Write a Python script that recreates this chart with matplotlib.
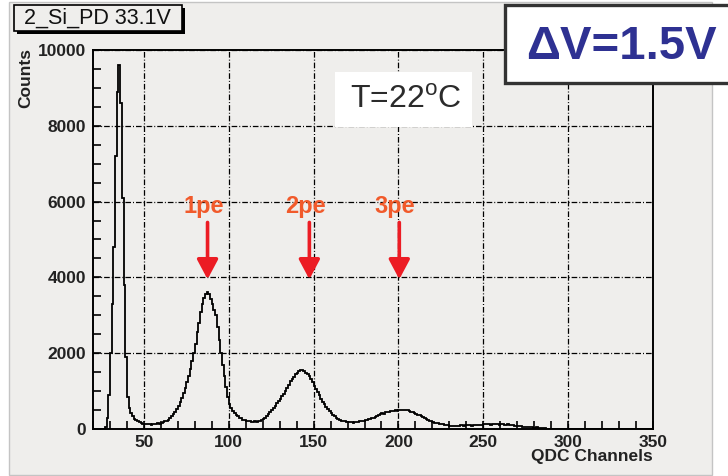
import numpy as np
import matplotlib
matplotlib.use("Agg")
from matplotlib import pyplot as plt
from matplotlib.patches import Rectangle
from matplotlib.ticker import MultipleLocator

plt.rcParams['font.family'] = ['Liberation Sans', 'DejaVu Sans']
plt.rcParams['mathtext.fontset'] = 'custom'
plt.rcParams['mathtext.rm'] = 'Liberation Sans'

# QDC spectrum, one count value per channel starting at channel 20
first_channel = 20
counts = [
    0, 0, 0, 0, 0, 0, 0, 40, 300, 900,                      # 20-29
    2000, 3300, 4800, 7200, 8900, 9600, 8600, 6100, 3800, 1900,  # 30-39
    850, 560, 420, 330, 270, 230, 200, 175, 160, 145,       # 40-49
    130, 125, 120, 125, 115, 120, 125, 140, 150, 145,       # 50-59
    165, 180, 200, 215, 245, 290, 340, 390, 450, 530,       # 60-69
    620, 720, 830, 940, 1080, 1230, 1400, 1580, 1800, 2000,  # 70-79
    2250, 2550, 2800, 3100, 3300, 3450, 3550, 3620, 3550, 3420,  # 80-89
    3300, 3150, 3000, 2700, 2350, 2000, 1700, 1400, 1100, 850,   # 90-99
    650, 560, 480, 420, 370, 340, 300, 280, 250, 230,       # 100-109
    215, 210, 200, 195, 190, 200, 195, 205, 210, 240,       # 110-119
    270, 300, 340, 400, 450, 500, 560, 620, 680, 740,       # 120-129
    800, 870, 920, 1000, 1080, 1160, 1260, 1320, 1380, 1440,  # 130-139
    1490, 1530, 1560, 1550, 1520, 1490, 1450, 1390, 1310, 1230,  # 140-149
    1140, 1060, 970, 890, 800, 720, 650, 580, 520, 470,     # 150-159
    420, 380, 340, 300, 270, 240, 220, 210, 200, 190,       # 160-169
    180, 175, 180, 170, 175, 180, 190, 200, 210, 220,       # 170-179
    230, 250, 270, 260, 280, 300, 320, 330, 360, 400,       # 180-189
    420, 400, 440, 460, 450, 470, 480, 480, 490, 480,       # 190-199
    490, 500, 510, 500, 490, 505, 470, 450, 440, 420,       # 200-209
    400, 380, 360, 340, 310, 290, 260, 240, 220, 210,       # 210-219
    190, 170, 165, 150, 130, 125, 120, 110, 100, 95,        # 220-229
    90, 85, 80, 85, 90, 80, 95, 100, 90, 100,               # 230-239
    100, 95, 100, 90, 95, 100, 100, 95, 105, 110,           # 240-249
    125, 120, 130, 120, 115, 125, 120, 130, 125, 110,       # 250-259
    130, 120, 110, 115, 120, 110, 100, 95, 90, 85,          # 260-269
    80, 75, 70, 65, 60, 55, 50, 45, 40, 35,                 # 270-279
    30, 40, 25, 20, 20, 15, 15, 10, 10, 8,                  # 280-289
    8, 6, 5, 5, 4, 4, 3, 3, 3, 2,                           # 290-299
    2, 2, 3, 2, 2, 1, 2, 1, 1, 2,                           # 300-309
    1, 1, 1, 2, 1, 1, 0, 1, 1, 0,                           # 310-319
    1, 0, 0, 1, 0, 0, 1, 0, 0, 0,                           # 320-329
    0, 0, 0, 0, 0, 0, 0, 0, 0, 0,                           # 330-339
    0, 0, 0, 0, 0, 0, 0, 0, 0, 0,                           # 340-349
]

# photo-electron peak markers: label, channel, arrow top, arrow tip
pe_labels = ["1pe", "2pe", "3pe"]
pe_channels = [87.5, 147.5, 200.5]
arrow_top = 5450
arrow_tip = 3950

hist_title = "2_Si_PD 33.1V"
temp_text = r"T=22$^\mathrm{o}$C"
dv_text = "\u0394V=1.5V"

W, H = 728, 476
pad_grey = "#efeeec"

fig = plt.figure(figsize=(W / 100, H / 100), dpi=100)
fig.patch.set_facecolor("white")


def px(x, y):
    # pixel coordinates (from top-left) to figure fraction
    return x / W, 1 - y / H


# grey canvas behind the plot
x0, y1 = px(9, 475)
x1, y0 = px(712, 2)
fig.add_artist(Rectangle((x0, y1), x1 - x0, y0 - y1, transform=fig.transFigure,
                         facecolor=pad_grey, edgecolor="#c4c4c4", lw=1, zorder=0))

l, b = px(93, 429)
r, t = px(653, 50)
ax = fig.add_axes([l, b, r - l, t - b])
ax.set_facecolor(pad_grey)

edges = np.arange(first_channel, first_channel + len(counts) + 1)
ax.stairs(counts, edges, color="black", lw=1.3, zorder=3)

ax.set_xlim(20, 350)
ax.set_ylim(0, 10000)
ax.xaxis.set_major_locator(MultipleLocator(50))
ax.xaxis.set_minor_locator(MultipleLocator(10))
ax.yaxis.set_major_locator(MultipleLocator(2000))
ax.yaxis.set_minor_locator(MultipleLocator(500))
ax.tick_params(which="both", direction="in", length=6, width=1.2, color="black")
ax.tick_params(axis="x", pad=4)
ax.tick_params(axis="y", pad=5)
for lab in ax.get_xticklabels() + ax.get_yticklabels():
    lab.set_fontsize(12.5)
    lab.set_fontweight("bold")
    lab.set_color("#222222")
ax.grid(True, which="major", color="black", lw=0.9, linestyle=(0, (4.5, 1.6, 0.8, 1.6)))
for s in ax.spines.values():
    s.set_linewidth(1.4)

fig.text(*px(26, 48), "Counts", rotation=90, ha="center", va="top",
         fontsize=12.5, fontweight="bold", color="#222222")
fig.text(*px(653, 457), "QDC Channels", ha="right", va="center",
         fontsize=12.5, fontweight="bold", color="#222222")

# peak arrows
for lab, ch in zip(pe_labels, pe_channels):
    ax.annotate("", xy=(ch, arrow_tip), xytext=(ch, arrow_top),
                arrowprops=dict(arrowstyle="-|>,head_width=0.32,head_length=0.6",
                                color="#ec1c24", lw=2.6, shrinkA=0, shrinkB=0,
                                mutation_scale=20), zorder=5)
    ax.text(ch - 2.5, 5880, lab, ha="center", va="center", fontsize=17,
            fontweight="bold", color="#f15a2b", zorder=5)

# histogram title box with shadow
sx0, sy1 = px(17, 34)
sx1, sy0 = px(185, 8)
fig.add_artist(Rectangle((sx0, sy1), sx1 - sx0, sy0 - sy1, transform=fig.transFigure,
                         facecolor="black", edgecolor="none", zorder=4))
bx0, by1 = px(14, 31)
bx1, by0 = px(182, 5)
fig.add_artist(Rectangle((bx0, by1), bx1 - bx0, by0 - by1, transform=fig.transFigure,
                         facecolor=pad_grey, edgecolor="black", lw=1.2, zorder=5))
fig.text(*px(97, 18.5), hist_title, ha="center", va="center", fontsize=15.5,
         color="#111111", zorder=6)

# temperature box
tx0, ty1 = px(335, 127)
tx1, ty0 = px(472, 72)
fig.add_artist(Rectangle((tx0, ty1), tx1 - tx0, ty0 - ty1, transform=fig.transFigure,
                         facecolor="white", edgecolor="none", zorder=5))
fig.text(*px(406, 100), temp_text, ha="center", va="center", fontsize=23,
         color="#2b2b2b", zorder=6)

# bias step box
dx0, dy1 = px(505, 83)
dx1, dy0 = px(740, 5)
fig.add_artist(Rectangle((dx0, dy1), dx1 - dx0, dy0 - dy1, transform=fig.transFigure,
                         facecolor="white", edgecolor="#333333", lw=2.4, zorder=5))
fig.text(*px(621, 47), dv_text, ha="center", va="center", fontsize=34,
         fontweight="bold", color="#2e3192", zorder=6)

fig.savefig("out.png", dpi=100, facecolor=fig.get_facecolor())
